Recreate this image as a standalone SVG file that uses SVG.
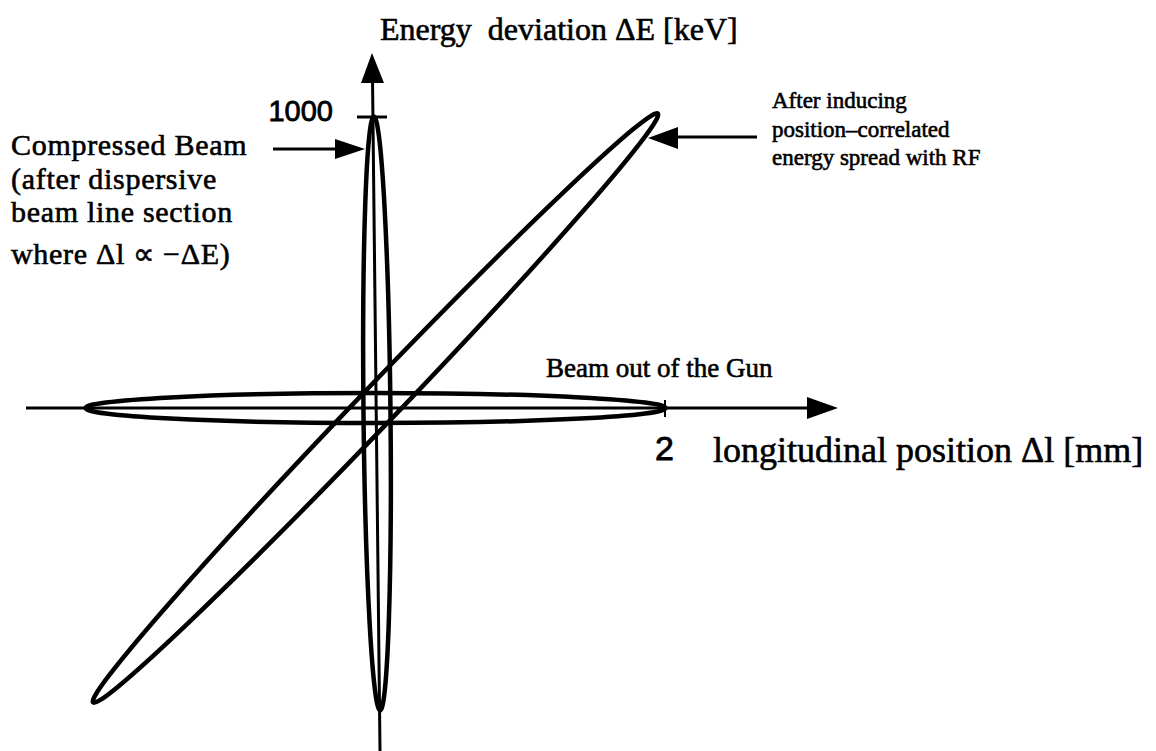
<svg xmlns="http://www.w3.org/2000/svg" width="1156" height="751" viewBox="0 0 1156 751">
<style>
.ln{stroke:#000;stroke-width:3;fill:none}
.el{stroke:#000;stroke-width:4.5;fill:none}
.hd{fill:#000;stroke:none}
.serif{font-family:"Liberation Serif","Times New Roman",serif;fill:#000;stroke:#000;stroke-width:0.6}
.sans{font-family:"Liberation Sans",Arial,sans-serif;fill:#000;stroke:#000;stroke-width:0.8}
</style>
<rect width="1156" height="751" fill="#fff"/>
<g id="axes">
  <line class="ln" x1="26" y1="408" x2="810" y2="408"/>
  <polygon class="hd" points="838,408 807,397 807,419"/>
  <line class="ln" x1="372.5" y1="78" x2="380" y2="751"/>
  <polygon class="hd" points="372,53 361,83 384,83"/>
  <line class="ln" x1="357" y1="117" x2="387" y2="117"/>
  <line class="ln" x1="665" y1="400" x2="665" y2="417" style="stroke-width:2"/>
</g>
<g id="beam-gun">
  <ellipse class="el" cx="375.5" cy="408" rx="290" ry="15"/>
</g>
<g id="beam-compressed">
  <ellipse class="el" cx="0" cy="0" rx="13.5" ry="297" transform="translate(377,413.5) rotate(-0.6)"/>
</g>
<g id="beam-rf">
  <ellipse class="el" cx="0" cy="0" rx="408" ry="19" transform="translate(375.5,408) rotate(-46.2)"/>
</g>
<g id="labels">
  <text class="serif" x="380" y="40" font-size="32" xml:space="preserve">Energy  deviation ΔE [keV]</text>
  <text class="sans" x="333" y="121" font-size="29" text-anchor="end">1000</text>
  <text class="serif" font-size="30" letter-spacing="0.7">
    <tspan x="11" y="155">Compressed Beam</tspan>
    <tspan x="11" y="189">(after dispersive</tspan>
    <tspan x="11" y="222">beam line section</tspan>
    <tspan x="11" y="264">where Δl ∝ −ΔE)</tspan>
  </text>
  <text class="serif" font-size="23">
    <tspan x="772" y="108">After inducing</tspan>
    <tspan x="772" y="137">position–correlated</tspan>
    <tspan x="772" y="165">energy spread with RF</tspan>
  </text>
  <text class="serif" x="546" y="377" font-size="27">Beam out of the Gun</text>
  <text class="sans" x="655" y="460" font-size="34">2</text>
  <text class="serif" x="713" y="462" font-size="36">longitudinal position Δl [mm]</text>
</g>
<g id="connectors">
  <line class="ln" x1="273" y1="149" x2="338" y2="149"/>
  <polygon class="hd" points="365,149 335,139 335,159"/>
  <line class="ln" x1="757" y1="137" x2="675" y2="137"/>
  <polygon class="hd" points="648,138 678,127 678,149"/>
</g>
</svg>
